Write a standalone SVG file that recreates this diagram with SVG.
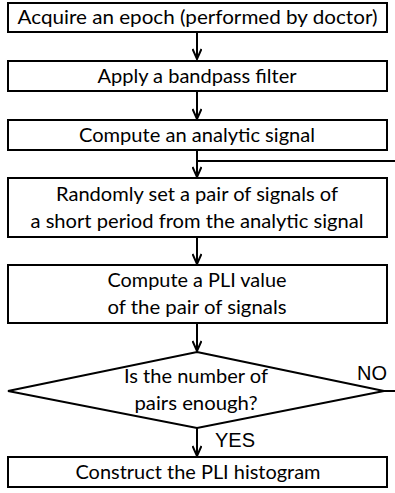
<svg xmlns="http://www.w3.org/2000/svg" width="395" height="493" viewBox="0 0 395 493">
<style>
.box{fill:#fff;stroke:#000;stroke-width:2}
.t{font-family:Lato,"Open Sans",sans-serif;font-size:20px;fill:#000;text-anchor:middle}
.lab{font-family:"Liberation Sans",Arial,sans-serif;font-size:20px;fill:#000}
.c{fill:none;stroke:#000;stroke-width:2}
</style>
<defs>
<marker id="ah" viewBox="0 0 12 10" refX="11" refY="5" markerWidth="12" markerHeight="10" markerUnits="userSpaceOnUse" orient="auto">
<polyline points="1,0.5 11,5 1,9.5" fill="none" stroke="#000" stroke-width="2"/>
</marker>
</defs>
<rect width="395" height="493" fill="#fff"/>
<g id="connectors">
<line class="c" x1="197" y1="32" x2="197" y2="59" marker-end="url(#ah)"/>
<line class="c" x1="197" y1="91" x2="197" y2="119" marker-end="url(#ah)"/>
<line class="c" x1="197" y1="150" x2="197" y2="177" marker-end="url(#ah)"/>
<line class="c" x1="196" y1="161" x2="395" y2="161"/>
<line class="c" x1="197" y1="237" x2="197" y2="264" marker-end="url(#ah)"/>
<line class="c" x1="197" y1="323" x2="197" y2="351" marker-end="url(#ah)"/>
<line class="c" x1="197" y1="428" x2="197" y2="456" marker-end="url(#ah)"/>
<line class="c" x1="384" y1="391" x2="395" y2="391"/>
<text class="lab" x="357" y="380">NO</text>
<text class="lab" x="215" y="447">YES</text>
</g>
<g id="n1"><rect class="box" x="8" y="3" width="379" height="29"/><text class="t" x="197.5" y="24" textLength="360" lengthAdjust="spacingAndGlyphs">Acquire an epoch (performed by doctor)</text></g>
<g id="n2"><rect class="box" x="8" y="61" width="379" height="30"/><text class="t" x="197" y="83" textLength="199" lengthAdjust="spacingAndGlyphs">Apply a bandpass filter</text></g>
<g id="n3"><rect class="box" x="8" y="120" width="379" height="30"/><text class="t" x="197" y="142" textLength="236" lengthAdjust="spacingAndGlyphs">Compute an analytic signal</text></g>
<g id="n4"><rect class="box" x="8" y="178" width="379" height="59"/><text class="t" x="197" y="201" textLength="282" lengthAdjust="spacingAndGlyphs">Randomly set a pair of signals of</text><text class="t" x="197" y="228" textLength="333" lengthAdjust="spacingAndGlyphs">a short period from the analytic signal</text></g>
<g id="n5"><rect class="box" x="8" y="265" width="379" height="58"/><text class="t" x="197" y="287" textLength="179" lengthAdjust="spacingAndGlyphs">Compute a PLI value</text><text class="t" x="197" y="314" textLength="179" lengthAdjust="spacingAndGlyphs">of the pair of signals</text></g>
<g id="n6"><polygon class="box" points="197,352 384,391 197,428 8,391"/><text class="t" x="196" y="383" textLength="144" lengthAdjust="spacingAndGlyphs">Is the number of</text><text class="t" x="196" y="410" textLength="123" lengthAdjust="spacingAndGlyphs">pairs enough?</text></g>
<g id="n7"><rect class="box" x="8" y="457" width="379" height="30"/><text class="t" x="198" y="479" textLength="245" lengthAdjust="spacingAndGlyphs">Construct the PLI histogram</text></g>
</svg>
